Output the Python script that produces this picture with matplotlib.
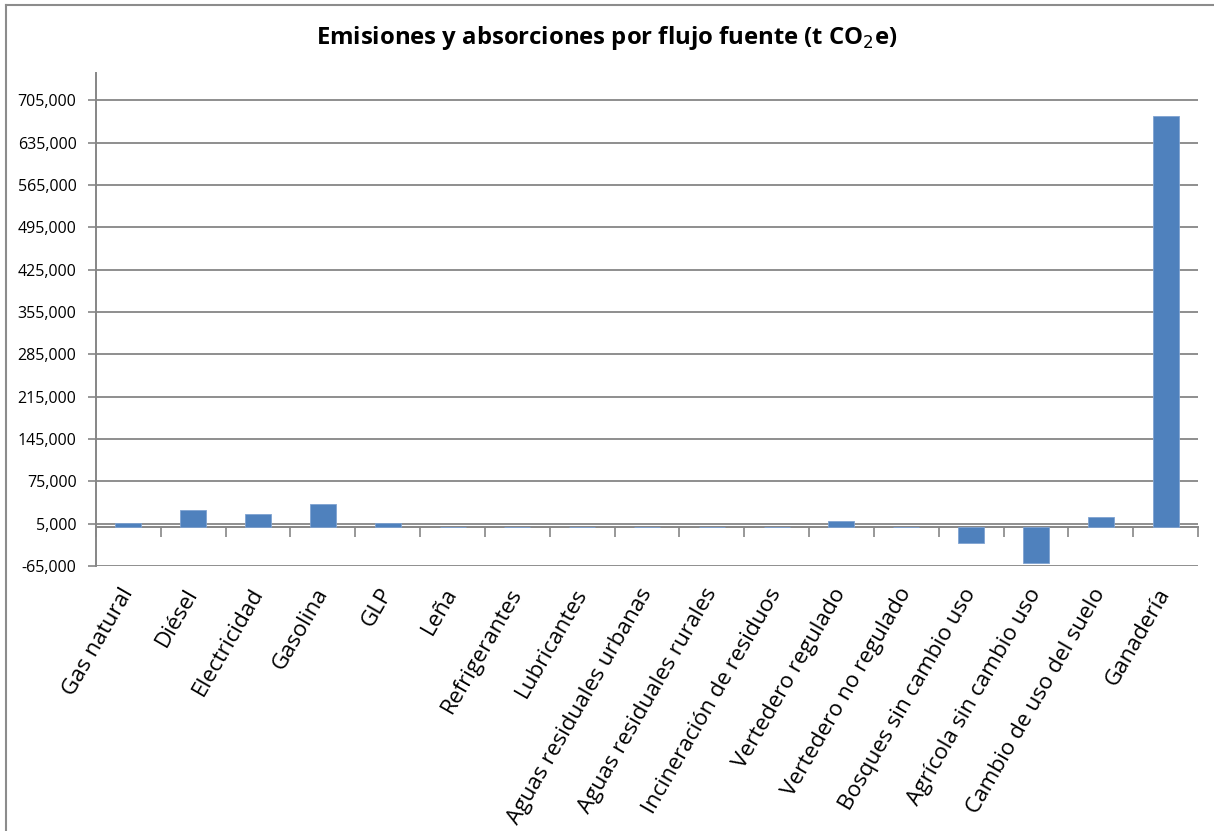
"""
Emisiones y absorciones por flujo fuente — gráfico de barras.
"""

import matplotlib
matplotlib.use("Agg")
import matplotlib.pyplot as plt
import matplotlib.ticker as ticker
from matplotlib.lines import Line2D


# ─────────────────────────────────────────────
# Datos
# ─────────────────────────────────────────────

categories = [
    "Gas natural", "Diésel", "Electricidad", "Gasolina", "GLP", "Leña",
    "Refrigerantes", "Lubricantes", "Aguas residuales urbanas",
    "Aguas residuales rurales", "Incineración de residuos",
    "Vertedero regulado", "Vertedero no regulado", "Bosques sin cambio uso",
    "Agrícola sin cambio uso", "Cambio de uso del suelo", "Ganadería",
]
values = [
    5600, 27800, 20600, 36700, 5600, 0,
    0, 0, 0,
    0, 0,
    9000, 0, -27700,
    -59400, 16200, 679500,
]
y_ticks = list(range(-65000, 705001, 70000))

TITLE_PREFIX = "Emisiones y absorciones por flujo fuente (t CO"
BAR_COLOR = "#4F81BD"
AXIS_GRAY = "#868686"
FONT = "Open Sans"

plt.rcParams["font.family"] = [FONT, "DejaVu Sans"]

fig = plt.figure(figsize=(12.14, 8.31), dpi=100)
ax = fig.add_axes([0.0791, 0.3189, 0.9077, 0.5933])

x = list(range(len(categories)))
ax.bar(x, values, width=0.4, color=BAR_COLOR, edgecolor="#7fa3d2", linewidth=0.6, zorder=3)

ymin, ymax = -65000, 750000
ax.set_ylim(ymin, ymax)
ax.set_xlim(-0.5, len(categories) - 0.5)

# eje Y
ax.set_yticks(y_ticks)
ax.yaxis.set_major_formatter(ticker.FuncFormatter(lambda v, p: f"{int(v):,}"))
ax.tick_params(axis="y", direction="out", length=6, width=1.2, color=AXIS_GRAY,
               labelsize=11.5, pad=8, labelcolor="#000000")
ax.grid(axis="y", color=AXIS_GRAY, linewidth=1.3, zorder=0)

# eje X (etiquetas de categorías)
ax.set_xticks(x)
ax.set_xticklabels(categories, rotation=60, ha="right", va="center",
                   rotation_mode="anchor", fontsize=16.2)
ax.tick_params(axis="x", length=0, pad=17)

for side in ("top", "right", "bottom"):
    ax.spines[side].set_visible(False)
ax.spines["left"].set_color(AXIS_GRAY)
ax.spines["left"].set_linewidth(1.4)

# línea de cero con marcas entre categorías
zero_loc = (0 - ymin) / (ymax - ymin)
sec = ax.secondary_xaxis(zero_loc)
sec.set_xticks([i - 0.5 for i in range(len(categories) + 1)])
sec.tick_params(axis="x", direction="out", length=7, width=1.2, color=AXIS_GRAY,
                labelbottom=False, labeltop=False, bottom=True, top=False)
sec.xaxis.set_ticks_position("bottom")
sec.spines["bottom"].set_color(AXIS_GRAY)
sec.spines["bottom"].set_linewidth(1.4)
sec.spines["top"].set_visible(False)
for lbl in sec.get_xticklabels():
    lbl.set_visible(False)

# título
fig.text(0.5, 0.954, TITLE_PREFIX + "$_2$" + "e)", ha="center", va="center",
         fontsize=17.2, fontweight="bold")

# borde del área del gráfico
fig.add_artist(Line2D([6 / 1214, 6 / 1214], [0, 1 - 5 / 831], color="#8c8c8c", linewidth=1.5))
fig.add_artist(Line2D([6 / 1214, 1], [1 - 5 / 831, 1 - 5 / 831], color="#8c8c8c", linewidth=1.5))

fig.savefig("out.png", dpi=100, facecolor="white")
